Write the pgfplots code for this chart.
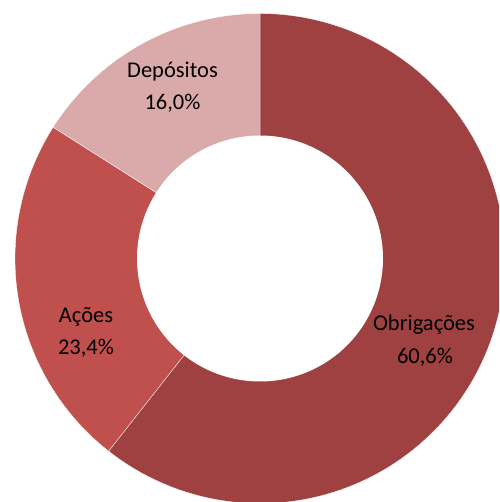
\documentclass[border=0pt]{standalone}
\usepackage{fontspec}
\setmainfont{Carlito}
\usepackage{pgfplots}
\usepackage{pgfplotstable}
\pgfplotsset{compat=1.18}
\definecolor{cObr}{RGB}{158,65,64}
\definecolor{cAco}{RGB}{192,80,77}
\definecolor{cDep}{RGB}{218,169,169}
\pgfplotstableread{
idx value
0 60.6
1 23.4
2 16.0
}\piedata
\begin{document}%
\begin{tikzpicture}
\pgfplotstablegetelem{0}{value}\of\piedata \let\vA\pgfplotsretval
\pgfplotstablegetelem{1}{value}\of\piedata \let\vB\pgfplotsretval
\pgfplotstablegetelem{2}{value}\of\piedata \let\vC\pgfplotsretval
\pgfmathsetmacro{\aZero}{90}
\pgfmathsetmacro{\aOne}{90-3.6*\vA}
\pgfmathsetmacro{\aTwo}{\aOne-3.6*\vB}
\pgfmathsetmacro{\aThree}{\aTwo-3.6*\vC}
\begin{axis}[
  width=499pt, height=502pt, scale only axis,
  xmin=-260, xmax=239, ymin=-243.5, ymax=258.5,
  axis lines=none, clip=true,
  every axis plot/.append style={samples=120, variable=\t},
]
\addplot[fill=cObr, draw=white, line width=0.3pt, domain=\aOne:\aZero] ({245*cos(t)},{245*sin(t)}) -- (axis cs:0,0) -- cycle;
\addplot[fill=cAco, draw=white, line width=0.3pt, domain=\aTwo:\aOne] ({245*cos(t)},{245*sin(t)}) -- (axis cs:0,0) -- cycle;
\addplot[fill=cDep, draw=white, line width=0.3pt, domain=\aThree:\aTwo] ({245*cos(t)},{245*sin(t)}) -- (axis cs:0,0) -- cycle;
\addplot[fill=white, draw=none, domain=0:360, samples=180] ({123*cos(t)},{123*sin(t)}) -- cycle;
\node[font=\fontsize{22.5}{26}\selectfont] at (axis cs:-87.5,186.5) {Depósitos};
\node[font=\fontsize{22.5}{26}\selectfont] at (axis cs:-87.5,155.5) {16,0\%};
\node[font=\fontsize{22.5}{26}\selectfont] at (axis cs:-174,-58.5) {Ações};
\node[font=\fontsize{22.5}{26}\selectfont] at (axis cs:-174,-89.5) {23,4\%};
\node[font=\fontsize{22.5}{26}\selectfont] at (axis cs:164,-66.5) {Obrigações};
\node[font=\fontsize{22.5}{26}\selectfont] at (axis cs:165,-98.5) {60,6\%};
\end{axis}
\pgfresetboundingbox
\path[use as bounding box] (current axis.south west) rectangle (current axis.north east);
\end{tikzpicture}%
\end{document}
